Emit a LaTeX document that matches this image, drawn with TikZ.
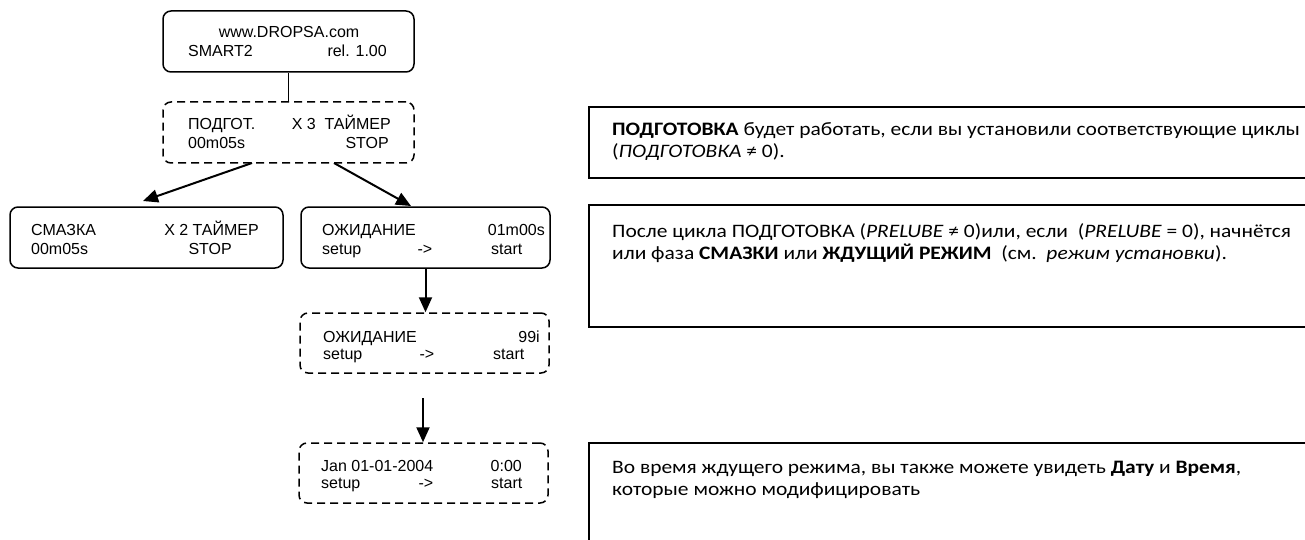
\documentclass[tikz,border=0pt]{standalone}
\usepackage{fontspec}
\setmainfont{Liberation Sans}
\newfontfamily\notefont[FakeStretch=1.13]{Carlito}
\usetikzlibrary{arrows.meta}
\begin{document}
\begin{tikzpicture}[x=1pt,y=-1pt,
 lcd/.style={draw, line width=1.5pt, rounded corners=8pt, inner sep=0pt, minimum width=249pt, minimum height=61pt},
 lcdd/.style={lcd, dash pattern=on 8pt off 5pt},
 t/.style={inner sep=0pt, font=\fontsize{16}{18}\selectfont, anchor=base west},
 tr/.style={t, anchor=base east},
 tc/.style={t, anchor=base},
 note/.style={draw, line width=2pt, inner sep=0pt, minimum width=723pt},
 nt/.style={inner sep=0pt, anchor=base west, align=left, font=\notefont\fontsize{19}{22}\selectfont},
 conn/.style={line width=1.5pt},
 arr/.style={line width=2pt, -{Triangle[length=15pt,width=13pt]}}]
\useasboundingbox (0,0) rectangle (1305,540);
% LCD boxes
\node[lcd, minimum width=251pt] (A) at (288.5,41.5) {};
\node[lcdd, minimum width=251pt] (B) at (288.5,132.5) {};
\node[lcd, minimum width=273pt] (SM) at (146.5,237.5) {};
\node[lcd] (W1) at (425.5,237.5) {};
\node[lcdd, minimum height=60pt] (W2) at (424.5,343) {};
\node[lcdd, minimum height=60pt] (J) at (423.5,473) {};
% texts
\node[tc] (a1) at (289,38) {www.DROPSA.com};
\node[t] (a2) at (188,57) {SMART2};
\node[tr] (a3) at (387,57) {rel. 1.00};
\node[t] (b1) at (188,130) {ПОДГОТ.};
\node[tr] (b2) at (391,130) {X 3\ \ ТАЙМЕР};
\node[t] (b3) at (188,149) {00m05s};
\node[tr] (b4) at (389,149) {STOP};
\node[t] (s1) at (31,235) {СМАЗКА};
\node[tr] (s2) at (259,235) {X 2 ТАЙМЕР};
\node[t] (s3) at (31,254) {00m05s};
\node[tr] (s4) at (232,254) {STOP};
\node[t] (w1) at (322,235) {ОЖИДАНИЕ};
\node[tr] (w2) at (545,235) {01m00s};
\node[t] (w3) at (322,254) {setup};
\node[tc] (w4) at (425,254) {->};
\node[t] (w5) at (491,254) {start};
\node[t] (v1) at (323,342) {ОЖИДАНИЕ};
\node[tr] (v2) at (540,342) {99i};
\node[t] (v3) at (323,359) {setup};
\node[tc] (v4) at (427,359) {->};
\node[t] (v5) at (493,359) {start};
\node[t] (j1) at (321,471) {Jan 01-01-2004};
\node[tr] (j2) at (522,471) {0:00};
\node[t] (j3) at (321,488) {setup};
\node[tc] (j4) at (426,488) {->};
\node[t] (j5) at (491,488) {start};
% connectors
\draw[conn] (A.south) -- (B.north);
\coordinate (bl) at (252,163);
\coordinate (sl) at (143,201);
\coordinate (br) at (334,163);
\coordinate (wr) at (411,206);
\draw[arr] (bl) -- (sl);
\draw[arr] (br) -- (wr);
\draw[arr] (W1.south) -- (W1.south |- W2.north);
\coordinate (j0) at (423,398);
\draw[arr] (j0) -- (j0 |- J.north);
% notes
\node[note, minimum height=71pt] (N1) at (950.5,142.5) {};
\node[note, minimum height=122pt] (N2) at (950.5,266) {};
\node[note, minimum height=117pt] (N3) at (950.5,501.5) {};
\node[nt] (n1) at (612,158) {\textbf{ПОДГОТОВКА} будет работать, если вы установили соответствующие циклы\\(\textit{ПОДГОТОВКА} ≠ 0).};
\node[nt] (n2) at (612,259) {После цикла ПОДГОТОВКА (\textit{PRELUBE} ≠ 0)или, если\ \ (\textit{PRELUBE} = 0), начнётся\\или фаза \textbf{СМАЗКИ} или \textbf{ЖДУЩИЙ РЕЖИМ}\ \ (см.\ \ \textit{режим установки}).};
\node[nt] (n3) at (612,495) {Во время ждущего режима, вы также можете увидеть \textbf{Дату} и \textbf{Время},\\которые можно модифицировать};
\end{tikzpicture}
\end{document}
